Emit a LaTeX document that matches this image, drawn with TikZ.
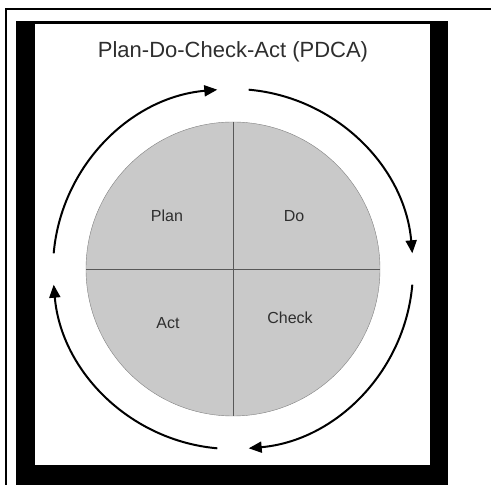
\documentclass[tikz,border=0pt]{standalone}
\usepackage{fontspec}
\setmainfont{Liberation Sans}
\usetikzlibrary{arrows.meta, positioning}
\definecolor{wheelgray}{HTML}{C9C9C9}
\definecolor{inkgray}{HTML}{2E2E2E}
\tikzset{
  cyc/.style={line width=2pt,-{Triangle[length=13pt,width=11pt]}},
  quarter/.style={text=inkgray,font=\fontsize{16}{18}\selectfont}
}

\begin{document}
\begin{tikzpicture}[x=1pt,y=1pt]
\clip (0,0) rectangle (491,485);
\draw[line width=1.5pt] (6,-10) rectangle (500,476);
\fill[black] (16,-10) rectangle (448,464);
\fill[white] (35,20) rectangle (430,461);
\node[text=inkgray,font=\fontsize{22}{25}\selectfont] (title) at (233,433) {Plan-Do-Check-Act (PDCA)};
\node[draw=gray,shape=circle,fill=wheelgray,minimum size=294pt,inner sep=0pt] (wheel) at (233,216) {};
\draw[inkgray!80] (wheel.north)--(wheel.south);
\draw[inkgray!80] (wheel.west)--(wheel.east);
\node[quarter] (plan) at (167,269) {Plan};
\node[quarter] (do) at (294,269) {Do};
\node[quarter] (act) at (168,162) {Act};
\node[quarter] (check) at (290,167) {Check};
\coordinate (s1) at ([shift={(175:180)}]wheel.center);
\coordinate (s2) at ([shift={(85:180)}]wheel.center);
\coordinate (s3) at ([shift={(-5:180)}]wheel.center);
\coordinate (s4) at ([shift={(-95:180)}]wheel.center);
\draw[cyc] (s1) arc[start angle=175,end angle=95,radius=180];
\draw[cyc] (s2) arc[start angle=85,end angle=5,radius=180];
\draw[cyc] (s3) arc[start angle=-5,end angle=-85,radius=180];
\draw[cyc] (s4) arc[start angle=-95,end angle=-175,radius=180];
\end{tikzpicture}
\end{document}
